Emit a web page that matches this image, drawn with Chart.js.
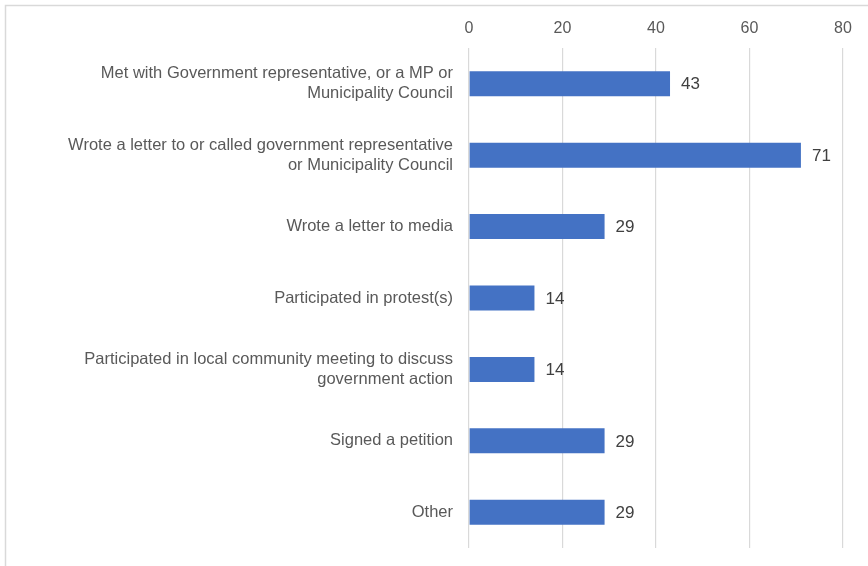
<!DOCTYPE html>
<html>
<head>
<meta charset="utf-8">
<script src="https://cdn.jsdelivr.net/npm/chart.js@4.4.1/dist/chart.umd.min.js"></script>
<style>
html,body{margin:0;padding:0;background:#fff;}
#wrap{width:868px;height:566px;position:relative;}
</style>
</head>
<body>
<div id="wrap"><canvas id="c" width="868" height="566"></canvas></div>
<script>
const categories = [
  ["Met with Government representative, or a MP or", "Municipality Council"],
  ["Wrote a letter to or called government representative", "or Municipality Council"],
  ["Wrote a letter to media"],
  ["Participated in protest(s)"],
  ["Participated in local community meeting to discuss", "government action"],
  ["Signed a petition"],
  ["Other"]
];
const values = [43, 71, 29, 14, 14, 29, 29];
const tickValues = [0, 20, 40, 60, 80];

const frame = {
  id: 'frame',
  beforeDraw(chart) {
    const ctx = chart.ctx;
    ctx.save();
    ctx.strokeStyle = '#d9d9d9';
    ctx.lineWidth = 1.5;
    ctx.beginPath();
    ctx.moveTo(5.5, 566);
    ctx.lineTo(5.5, 5.5);
    ctx.lineTo(868, 5.5);
    ctx.stroke();
    ctx.restore();
  }
};

const valueLabels = {
  id: 'valueLabels',
  afterDatasetsDraw(chart) {
    const ctx = chart.ctx;
    const meta = chart.getDatasetMeta(0);
    ctx.save();
    ctx.fillStyle = '#404040';
    ctx.font = '17px "Liberation Sans", Arial, sans-serif';
    ctx.textAlign = 'left';
    ctx.textBaseline = 'middle';
    meta.data.forEach((bar, i) => {
      ctx.fillText(String(values[i]), bar.x + 11, bar.y + 1);
    });
    ctx.restore();
  }
};

new Chart(document.getElementById('c'), {
  type: 'bar',
  data: {
    labels: categories,
    datasets: [{
      data: values,
      backgroundColor: '#4472C4',
      borderWidth: 0,
      categoryPercentage: 1,
      barPercentage: 0.35
    }]
  },
  options: {
    indexAxis: 'y',
    responsive: false,
    animation: false,
    layout: { padding: { left: 5, right: 25, top: 0, bottom: 18 } },
    plugins: { legend: { display: false }, tooltip: { enabled: false } },
    scales: {
      x: {
        position: 'top',
        min: 0, max: 80,
        afterBuildTicks(scale) { scale.ticks = tickValues.map(v => ({ value: v })); },
        afterFit(scale) { scale.height = 48; scale.paddingLeft = 0; scale.paddingRight = 0; },
        grid: { color: '#d9d9d9', lineWidth: 1.2, drawTicks: false },
        border: { display: false },
        ticks: { color: '#595959', padding: 10, font: { family: '"Liberation Sans", Arial, sans-serif', size: 16 } }
      },
      y: {
        afterFit(scale) { scale.width = 464; scale.paddingTop = 0; scale.paddingBottom = 0; },
        grid: { display: false, drawTicks: false },
        border: { display: false },
        ticks: { color: '#595959', padding: 16, font: { family: '"Liberation Sans", Arial, sans-serif', size: 16.5, lineHeight: 1.2 } }
      }
    }
  },
  plugins: [frame, valueLabels]
});
</script>
</body>
</html>
